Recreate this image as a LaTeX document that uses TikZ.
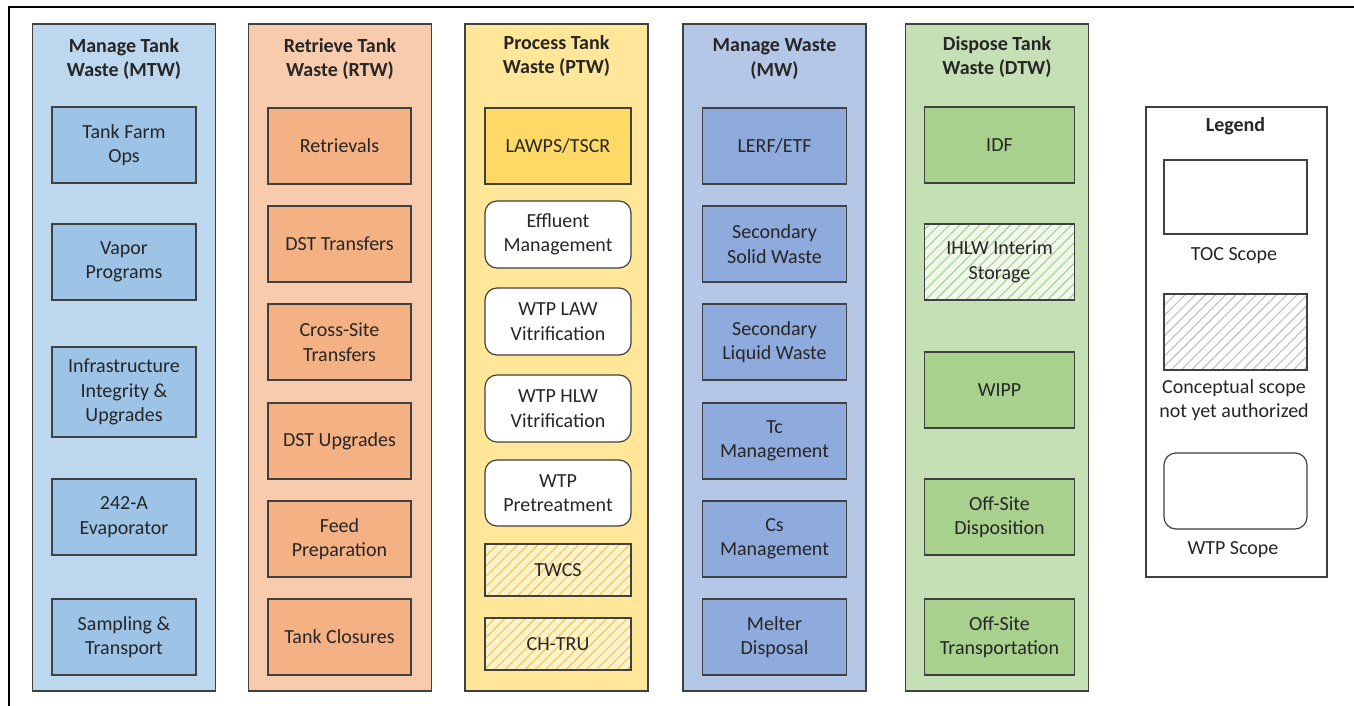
\documentclass[tikz,border=0pt]{standalone}
\usepackage{fontspec}
\setmainfont{Carlito}
\usetikzlibrary{patterns.meta}

\definecolor{edge}{HTML}{404040}
\definecolor{mtwcol}{HTML}{BDD7EE}
\definecolor{mtwbox}{HTML}{9DC3E6}
\definecolor{rtwcol}{HTML}{F8CBAD}
\definecolor{rtwbox}{HTML}{F4B183}
\definecolor{ptwcol}{HTML}{FFE699}
\definecolor{ptwbox}{HTML}{FFD966}
\definecolor{ptwpale}{HTML}{FFF2CC}
\definecolor{ptwline}{HTML}{F2C94C}
\definecolor{mwcol}{HTML}{B4C7E7}
\definecolor{mwbox}{HTML}{8FAADC}
\definecolor{dtwcol}{HTML}{C5E0B4}
\definecolor{dtwbox}{HTML}{A9D18E}
\definecolor{dtwpale}{HTML}{F0F7EB}
\definecolor{legline}{HTML}{BFBFBF}
\definecolor{txt}{HTML}{262626}

\tikzset{
  every node/.style={font=\fontsize{10}{12.2}\selectfont, text=txt, align=center, inner sep=0pt},
  column/.style={draw=edge, line width=0.6pt, minimum width=91.5pt, minimum height=333.5pt},
  coltitle/.style={font=\fontsize{10}{12.2}\selectfont\bfseries},
  unit/.style={draw=edge, line width=0.6pt, minimum width=72pt, minimum height=38pt},
  wtpunit/.style={unit, fill=white, rounded corners=6pt, minimum width=73pt, minimum height=33.5pt},
  hatched/.style 2 args={preaction={fill=#1}, pattern={Lines[angle=45,distance=3.6pt,line width=0.55pt]}, pattern color=#2}
}

\begin{document}
\begin{tikzpicture}[x=0.5pt,y=-0.5pt]
\useasboundingbox (0,0) rectangle (1354,706);

% outer frame
\draw[line width=1.2pt, black] (9,720) -- (9,7) -- (1370,7);

% Manage Tank Waste
\node[column, fill=mtwcol] (mtw) at (124,357.5) {};
\node[coltitle] (mtwtitle) at (124,59) {Manage Tank\\Waste (MTW)};
\node[unit, fill=mtwbox] (tfops) at (124,145) {Tank Farm\\Ops};
\node[unit, fill=mtwbox] (vapor) at (124,262) {Vapor\\Programs};
\node[unit, fill=mtwbox, minimum height=45pt] (infra) at (124,392) {Infrastructure\\Integrity \&\\Upgrades};
\node[unit, fill=mtwbox] (evap) at (124,517) {242-A\\Evaporator};
\node[unit, fill=mtwbox] (sampl) at (124,637) {Sampling \&\\Transport};

% Retrieve Tank Waste
\node[column, fill=rtwcol] (rtw) at (340,357.5) {};
\node[coltitle] (rtwtitle) at (340,59) {Retrieve Tank\\Waste (RTW)};
\node[unit, fill=rtwbox, minimum width=71.5pt] (retr) at (339.5,146) {Retrievals};
\node[unit, fill=rtwbox, minimum width=71.5pt] (dsttr) at (339.5,244) {DST Transfers};
\node[unit, fill=rtwbox, minimum width=71.5pt] (xsite) at (339.5,342) {Cross-Site\\Transfers};
\node[unit, fill=rtwbox, minimum width=71.5pt] (dstup) at (339.5,441) {DST Upgrades};
\node[unit, fill=rtwbox, minimum width=71.5pt] (feed) at (339.5,539) {Feed\\Preparation};
\node[unit, fill=rtwbox, minimum width=71.5pt] (closure) at (339.5,637) {Tank Closures};

% Process Tank Waste
\node[column, fill=ptwcol] (ptw) at (556.5,357.5) {};
\node[coltitle] (ptwtitle) at (556.5,56) {Process Tank\\Waste (PTW)};
\node[unit, fill=ptwbox, minimum width=73pt] (lawps) at (558,146) {LAWPS/TSCR};
\node[wtpunit] (effl) at (558,234.5) {Effluent\\Management};
\node[wtpunit] (wtplaw) at (558,321.5) {WTP LAW\\Vitrification};
\node[wtpunit] (wtphlw) at (558,408.5) {WTP HLW\\Vitrification};
\node[wtpunit, minimum height=33pt] (wtppt) at (558,493) {WTP\\Pretreatment};
\node[unit, hatched={ptwpale}{ptwline}, minimum width=73pt, minimum height=26pt] (twcs) at (558,570) {TWCS};
\node[unit, hatched={ptwpale}{ptwline}, minimum width=73pt, minimum height=26pt] (chtru) at (558,644) {CH-TRU};

% Manage Waste
\node[column, fill=mwcol] (mw) at (774.5,357.5) {};
\node[coltitle] (mwtitle) at (774.5,59) {Manage Waste\\(MW)};
\node[unit, fill=mwbox] (lerf) at (774.5,146) {LERF/ETF};
\node[unit, fill=mwbox] (secsol) at (774.5,244) {Secondary\\Solid Waste};
\node[unit, fill=mwbox] (secliq) at (774.5,342) {Secondary\\Liquid Waste};
\node[unit, fill=mwbox] (tcman) at (774.5,441) {Tc\\Management};
\node[unit, fill=mwbox] (csman) at (774.5,539) {Cs\\Management};
\node[unit, fill=mwbox] (melter) at (774.5,637) {Melter\\Disposal};

% Dispose Tank Waste
\node[column, fill=dtwcol] (dtw) at (997,357.5) {};
\node[coltitle] (dtwtitle) at (997,57) {Dispose Tank\\Waste (DTW)};
\node[unit, fill=dtwbox, minimum width=75pt] (idf) at (999.5,145) {IDF};
\node[unit, hatched={dtwpale}{dtwbox}, minimum width=75pt] (ihlw) at (999.5,262) {IHLW Interim\\Storage};
\node[unit, fill=dtwbox, minimum width=75pt] (wipp) at (999.5,390) {WIPP};
\node[unit, fill=dtwbox, minimum width=75pt] (offdisp) at (999.5,517) {Off-Site\\Disposition};
\node[unit, fill=dtwbox, minimum width=75pt] (offtrans) at (999.5,637) {Off-Site\\Transportation};

% legend
\node[draw=edge, line width=0.6pt, fill=white, minimum width=90.5pt, minimum height=235pt] (legend) at (1236.5,342) {};
\node[coltitle] (legtitle) at (1235.5,126) {Legend};
\node[unit, fill=white, minimum width=71.5pt, minimum height=37pt] (legtoc) at (1235.5,197) {};
\node (legtoctxt) at (1234,256) {TOC Scope};
\node[unit, hatched={white}{legline}, minimum width=71.5pt] (legconc) at (1235.5,332) {};
\node (legconctxt) at (1234,400) {Conceptual scope\\not yet authorized};
\node[wtpunit, minimum width=71.5pt, minimum height=38pt] (legwtp) at (1235.5,491) {};
\node (legwtptxt) at (1233,550) {WTP Scope};
\end{tikzpicture}
\end{document}
